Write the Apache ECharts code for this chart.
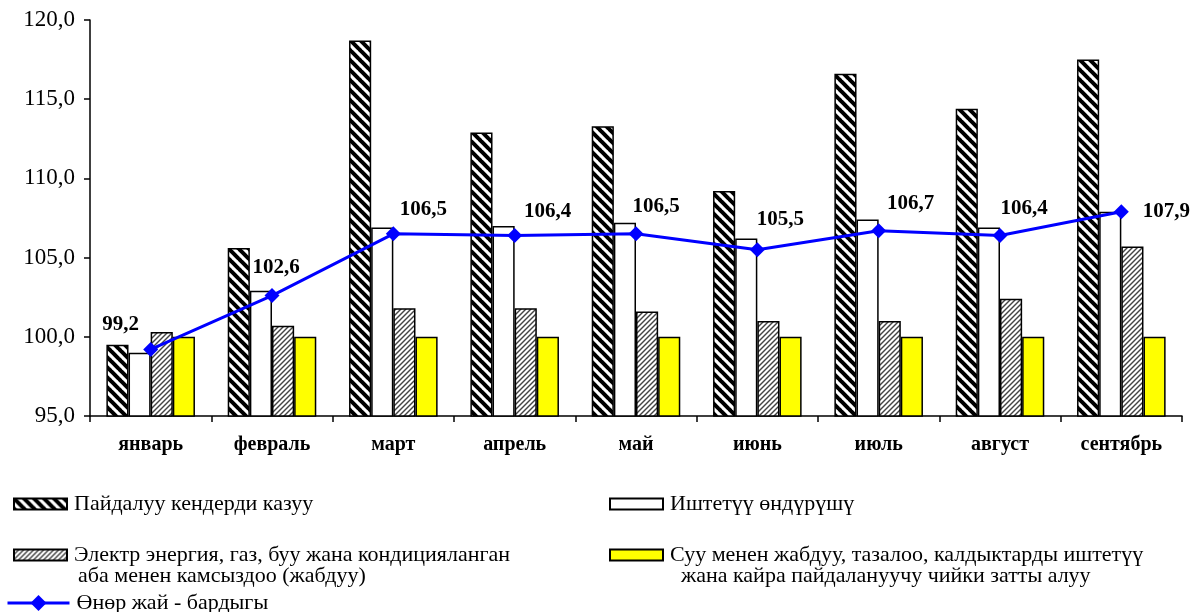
<!DOCTYPE html>
<html><head><meta charset="utf-8">
<script src="https://cdn.jsdelivr.net/npm/echarts@6/dist/echarts.min.js"></script>
<style>html,body{margin:0;padding:0;background:#fff}#c{width:1196px;height:612px}</style>
</head><body><div id="c"></div>
<script>
const categories = ['январь','февраль','март','апрель','май','июнь','июль','август','сентябрь'];
const mining = [99.5,105.6,118.7,112.9,113.3,109.2,116.6,114.4,117.5];
const manufacturing = [99.0,102.9,106.9,107.0,107.2,106.2,107.4,106.9,107.9];
const electricity = [100.3,100.7,101.8,101.8,101.6,101.0,101.0,102.4,105.7];
const water = [100.0,100.0,100.0,100.0,100.0,100.0,100.0,100.0,100.0];
const industryTotal = [99.2,102.6,106.5,106.4,106.5,105.5,106.7,106.4,107.9];
const seriesNames = ['Пайдалуу кендерди казуу','Иштетүү өндүрүшү','Электр энергия, газ, буу жана кондицияланган','Суу менен жабдуу, тазалоо, калдыктарды иштетүү','Өнөр жай - бардыгы'];
const secondLines = ['аба менен камсыздоо (жабдуу)','жана кайра пайдалануучу чийки затты алуу'];

function stripe(size, lw, color, dir){
  const c = document.createElement('canvas'); c.width = size; c.height = size;
  const g = c.getContext('2d'); g.fillStyle = '#fff'; g.fillRect(0,0,size,size);
  g.strokeStyle = color; g.lineWidth = lw;
  for (let k = -size; k <= size; k += size){
    g.beginPath();
    if (dir === 'back'){ g.moveTo(k-1,-1); g.lineTo(k+size+1,size+1); }
    else { g.moveTo(k-1,size+1); g.lineTo(k+size+1,-1); }
    g.stroke();
  }
  return c;
}
const patBlack = {image: stripe(10,4,'#000','back'), repeat:'repeat'};
const patGrey = {image: stripe(5,1.4,'#444','fwd'), repeat:'repeat'};

const FONT = 'Liberation Serif';
const labelOffsets = [[-30,-25],[4,-28],[30,-24],[33,-24],[20,-27],[23,-30],[32,-27],[24,-27],[45,0]];

const border = {borderColor:'#000', borderWidth:1.5};
const chart = echarts.init(document.getElementById('c'));
const legendBase = {orient:'horizontal', icon:'rect', itemWidth:53, itemHeight:11, itemGap:0,
  textStyle:{fontFamily:FONT, fontSize:22, color:'#000', padding:[0,0,0,2]}};
chart.setOption({
  animation:false,
  grid:{left:90, right:14, top:20, bottom:196},
  xAxis:{type:'category', data:categories,
    axisLine:{lineStyle:{color:'#000', width:1.5}},
    axisTick:{show:true, length:6, lineStyle:{color:'#000', width:1.5}},
    axisLabel:{fontFamily:FONT, fontWeight:'bold', fontSize:20, color:'#000', margin:19}},
  yAxis:{type:'value', min:95, max:120, interval:5,
    axisLine:{show:true, lineStyle:{color:'#000', width:1.5}},
    axisTick:{show:true, length:6, lineStyle:{color:'#000', width:1.5}},
    splitLine:{show:false},
    axisLabel:{fontFamily:FONT, fontSize:23, color:'#000', margin:15,
      formatter: v => v.toFixed(1).replace('.', ',')}},
  legend:[
    Object.assign({}, legendBase, {left:8, top:488, data:[seriesNames[0]]}),
    Object.assign({}, legendBase, {left:604, top:488, data:[seriesNames[1]]}),
    Object.assign({}, legendBase, {left:8, top:539, data:[seriesNames[2]]}),
    Object.assign({}, legendBase, {left:604, top:539, data:[seriesNames[3]]}),
    Object.assign({}, legendBase, {left:1, top:587, icon:null, itemWidth:62, itemHeight:20,
      lineStyle:{width:3}, data:[seriesNames[4]]})
  ],
  graphic:[
    {type:'text', left:78, top:565, style:{text:secondLines[0], font:'22px "'+FONT+'"', fill:'#000'}},
    {type:'text', left:681, top:565, style:{text:secondLines[1], font:'22px "'+FONT+'"', fill:'#000'}}
  ],
  series:[
    {name:seriesNames[0], type:'bar', data:mining, barGap:'0%', barCategoryGap:'27%', itemStyle:Object.assign({color:patBlack}, border)},
    {name:seriesNames[1], type:'bar', data:manufacturing, itemStyle:Object.assign({color:'#fff'}, border)},
    {name:seriesNames[2], type:'bar', data:electricity, itemStyle:Object.assign({color:patGrey}, border)},
    {name:seriesNames[3], type:'bar', data:water, itemStyle:Object.assign({color:'#ffff00'}, border)},
    {name:seriesNames[4], type:'line', z:10,
      data: industryTotal.map((v,i)=>({value:v, label:{offset:labelOffsets[i]}})),
      symbol:'diamond', symbolSize:15,
      lineStyle:{color:'#0000ff', width:3}, itemStyle:{color:'#0000ff'},
      label:{show:true, position:'inside', fontFamily:FONT, fontWeight:'bold', fontSize:21, color:'#000',
        formatter: p => p.value.toFixed(1).replace('.', ',')}}
  ]
});
</script></body></html>
